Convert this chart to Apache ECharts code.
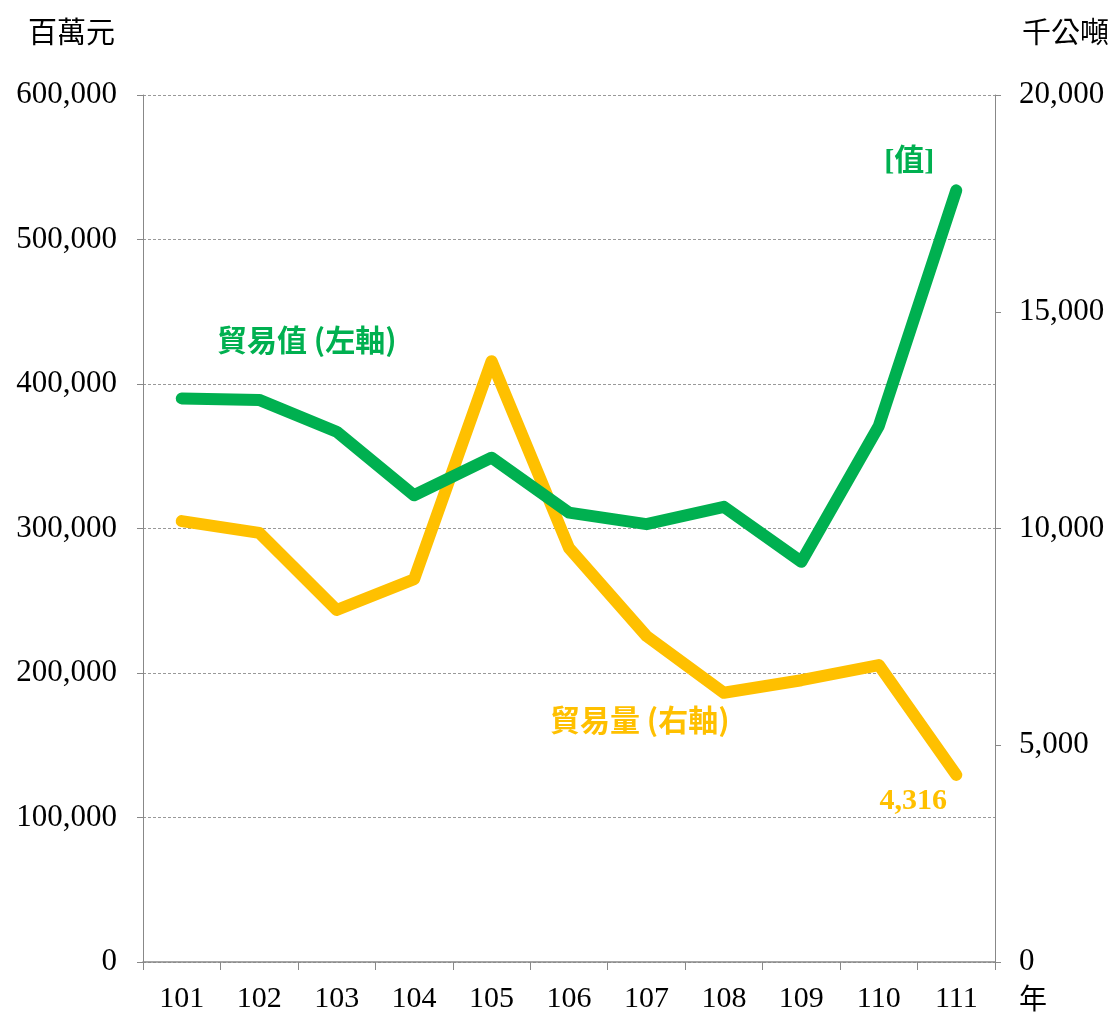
<!DOCTYPE html>
<html>
<head>
<meta charset="utf-8">
<script src="https://cdn.jsdelivr.net/npm/echarts@6/dist/echarts.min.js"></script>
<style>html,body{margin:0;padding:0;background:#fff;}#c{width:1116px;height:1017px;}</style>
</head>
<body>
<div id="c"></div>
<script>
const years = ['101','102','103','104','105','106','107','108','109','110','111'];
const tradeValue = [390000, 389000, 367000, 323000, 349000, 311000, 303000, 315000, 277000, 371000, 534000];
const tradeVolume = [10170, 9900, 8120, 8830, 13860, 9550, 7520, 6210, 6500, 6850, 4316];
const leftTicks = [0, 100000, 200000, 300000, 400000, 500000, 600000];
const rightTicks = [0, 5000, 10000, 15000, 20000];

const serif = "'Liberation Serif','Times New Roman',serif";
const cjk = "'Noto Sans CJK TC','Noto Sans CJK SC',sans-serif";
const green = '#00B050';
const yellow = '#FFC000';
const fmt = v => v.toLocaleString('en-US');

const chart = echarts.init(document.getElementById('c'));
chart.setOption({
  animation: false,
  backgroundColor: '#fff',
  grid: { left: 143, right: 121, top: 95, bottom: 55 },
  xAxis: {
    type: 'category',
    data: years,
    boundaryGap: true,
    axisLine: { lineStyle: { color: '#888', width: 1.5 } },
    axisTick: { show: true, length: 8, lineStyle: { color: '#888' } },
    axisLabel: { color: '#000', fontFamily: serif, fontSize: 30, margin: 22 }
  },
  yAxis: [
    {
      type: 'value', min: leftTicks[0], max: leftTicks[leftTicks.length - 1], interval: 100000,
      position: 'left',
      axisLine: { show: true, lineStyle: { color: '#888' } },
      axisTick: { show: true, length: 6, lineStyle: { color: '#888' } },
      splitLine: { show: true, lineStyle: { color: '#999', type: [3, 2], width: 1 } },
      axisLabel: { color: '#000', fontFamily: serif, fontSize: 31, margin: 26, formatter: v => fmt(v) }
    },
    {
      type: 'value', min: rightTicks[0], max: rightTicks[rightTicks.length - 1], interval: 5000,
      position: 'right',
      axisLine: { show: true, lineStyle: { color: '#888' } },
      axisTick: { show: true, length: 6, lineStyle: { color: '#888' } },
      splitLine: { show: false },
      axisLabel: { color: '#000', fontFamily: serif, fontSize: 31, margin: 24, formatter: v => fmt(v) }
    }
  ],
  series: [
    {
      name: '貿易值', type: 'line', yAxisIndex: 0, data: tradeValue,
      symbol: 'circle', symbolSize: 0, showSymbol: true, z: 3,
      itemStyle: { color: green },
      lineStyle: { color: green, width: 12, cap: 'round', join: 'round' },
      label: {
        show: true,
        formatter: p => p.dataIndex === years.length - 1 ? '[值]' : '',
        position: 'top', offset: [-47, -8],
        color: green, fontWeight: 'bold', fontSize: 30, fontFamily: serif + ',' + cjk
      }
    },
    {
      name: '貿易量', type: 'line', yAxisIndex: 1, data: tradeVolume,
      symbol: 'circle', symbolSize: 0, showSymbol: true, z: 2,
      itemStyle: { color: yellow },
      lineStyle: { color: yellow, width: 12, cap: 'round', join: 'round' },
      label: {
        show: true,
        formatter: p => p.dataIndex === years.length - 1 ? fmt(p.value) : '',
        position: 'bottom', offset: [-43, 6],
        color: yellow, fontWeight: 'bold', fontSize: 30, fontFamily: serif
      }
    }
  ],
  graphic: [
    { type: 'text', left: 28, top: 17, style: { text: '百萬元', font: '29px ' + cjk, fill: '#000' } },
    { type: 'text', left: 1022, top: 17, style: { text: '千公噸', font: '29px ' + cjk, fill: '#000' } },
    { type: 'text', left: 1019, top: 984, style: { text: '年', font: '28px ' + cjk, fill: '#000' } },
    { type: 'text', left: 217, top: 325, style: { text: '貿易值 (左軸)', font: 'bold 30px ' + cjk, fill: green } },
    { type: 'text', left: 550, top: 705, style: { text: '貿易量 (右軸)', font: 'bold 30px ' + cjk, fill: yellow } }
  ]
});
</script>
</body>
</html>
